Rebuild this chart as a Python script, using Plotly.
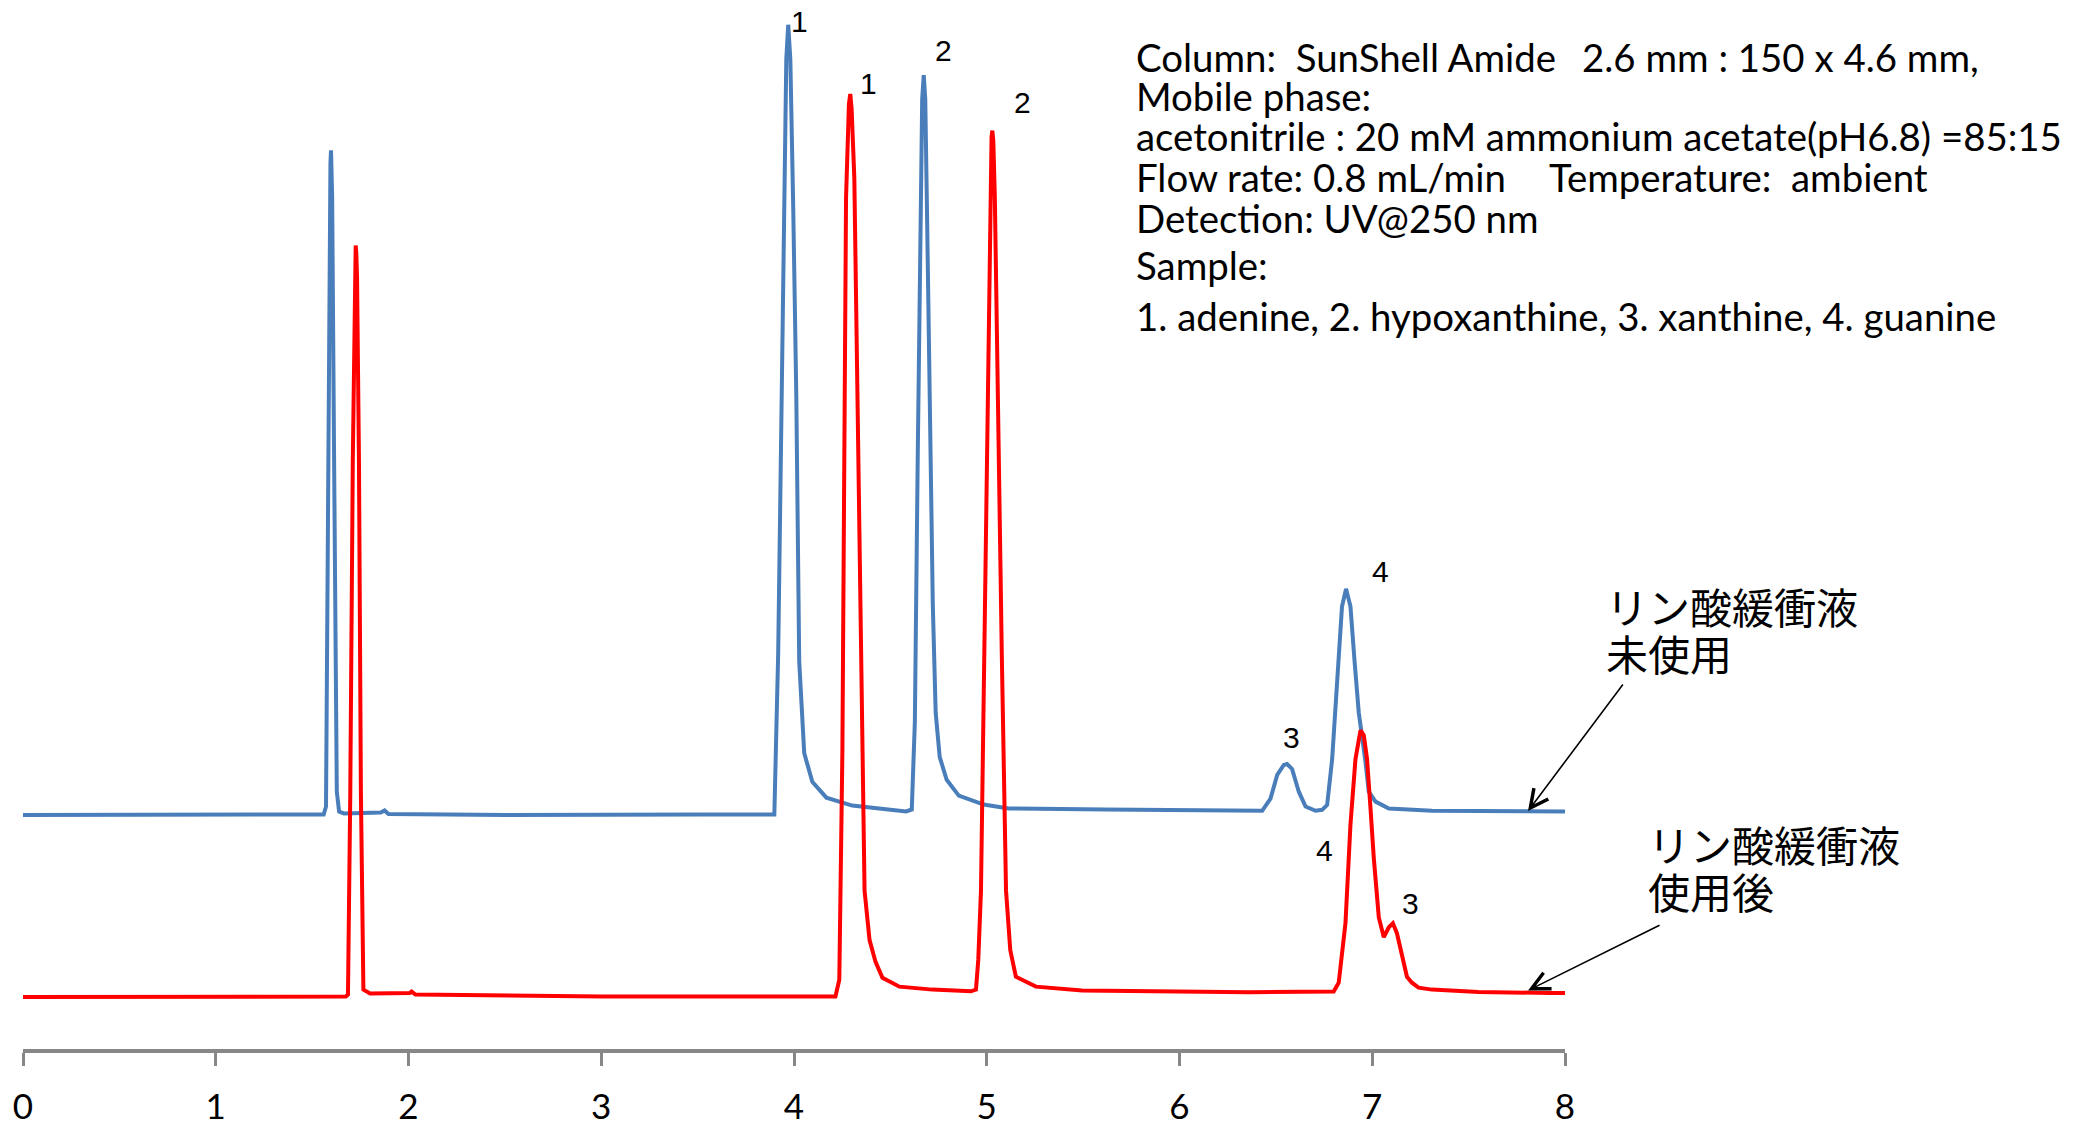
import plotly.graph_objects as go

# ---------------- data (time in min, detector signal in arbitrary units) ----------------
x_ticks = [0, 1, 2, 3, 4, 5, 6, 7, 8]

blue_time = [0.000, 0.502, 1.003, 1.545, 1.560, 1.572, 1.582, 1.593, 1.595, 1.598, 1.601, 1.604,
             1.614, 1.628, 1.640, 1.665, 1.856, 1.876, 1.896, 2.508, 3.511, 3.885,
             3.898, 3.918, 3.934, 3.950, 3.960, 3.970, 3.981, 3.996, 4.012, 4.027, 4.053, 4.095,
             4.168, 4.302, 4.582,
             4.611, 4.627, 4.642, 4.658, 4.665, 4.673, 4.681, 4.689, 4.704, 4.720, 4.735, 4.756,
             4.792, 4.855, 4.984, 5.114,
             5.617, 6.360, 6.429, 6.472, 6.507, 6.541, 6.558, 6.584, 6.619, 6.654, 6.706, 6.740,
             6.766, 6.792, 6.826, 6.843, 6.864, 6.887, 6.909, 6.930, 6.965, 6.982, 7.017, 7.086,
             7.310, 7.915, 8.000]
blue_signal = [236.5, 236.5, 236.5, 237.0, 237.0, 245, 595, 860, 895, 908, 895, 860,
               595, 260, 240, 238, 239, 241, 237.5, 236.5, 237.0, 237.5,
               237, 400, 650, 900, 1000, 1035, 1000, 850, 659, 392, 299, 270,
               254, 246, 240,
               242, 330, 600, 880, 960, 984, 960, 860, 640, 450, 340, 295,
               272, 256, 247, 243,
               242, 240, 240.7, 253, 277, 287, 288, 283, 260, 245, 240.7, 241.7,
               246.7, 293, 407, 447, 465, 447, 390, 340, 290, 260, 250, 243,
               240.7, 240, 240]

red_time = [0.000, 0.502, 1.003, 1.675, 1.686, 1.698, 1.711, 1.720, 1.723, 1.726, 1.729, 1.733,
            1.743, 1.753, 1.766, 1.801, 2.006, 2.016, 2.036, 3.009, 4.012, 4.215,
            4.235, 4.251, 4.270, 4.285, 4.292, 4.299, 4.313, 4.329, 4.347, 4.366, 4.392, 4.423,
            4.459, 4.547, 4.718, 4.918,
            4.944, 4.956, 4.970, 4.987, 5.005, 5.019, 5.025, 5.029, 5.034, 5.042, 5.056, 5.078,
            5.100, 5.122, 5.151, 5.255, 5.495, 6.360, 6.800,
            6.826, 6.861, 6.887, 6.913, 6.939, 6.956, 6.973, 6.991, 7.008, 7.034, 7.060, 7.086,
            7.107, 7.128, 7.154, 7.180, 7.206, 7.240, 7.310, 7.551, 7.915, 8.000]
red_signal = [52.6, 52.6, 52.8, 53.0, 55, 260, 595, 780, 805, 812, 805, 780,
              595, 260, 60, 56, 56.5, 58, 55, 53, 53, 53,
              70, 300, 860, 955, 965, 950, 880, 650, 400, 160, 110, 88,
              72, 63, 60, 58.3,
              60, 90, 160, 400, 660, 880, 922, 928, 918, 860, 660, 400,
              160, 100, 73, 63, 59, 57.3, 58,
              67, 127, 227, 293, 322, 317, 293, 243, 193, 133, 113, 123,
              127, 117, 93, 73, 67, 62, 60, 57.5, 56.7, 56.5]

# peak labels: (time, signal, text)
blue_peak_labels = [(4.031, 1038, "1"), (4.775, 1009, "2"), (6.581, 315, "3"), (7.044, 483, "4")]
red_peak_labels = [(4.386, 976, "1"), (5.184, 956, "2"), (6.754, 201, "4"), (7.201, 147, "3")]

info_lines = [
    "Column:\u00a0\u00a0SunShell Amide",
    "Mobile phase:",
    "acetonitrile : 20 mM ammonium acetate(pH6.8) =85:15",
    "Flow rate: 0.8 mL/min",
    "Detection: UV@250 nm",
    "Sample:",
    "1. adenine, 2. hypoxanthine, 3. xanthine, 4. guanine",
]
info_extra = [(0, "2.6 mm : 150 x 4.6 mm,"), (3, "Temperature:\u00a0\u00a0ambient")]

label_unused = ["リン酸緩衝液", "未使用"]
label_used = ["リン酸緩衝液", "使用後"]

# ---------------- layout constants (pixels) ----------------
W, H = 2080, 1126
ML, MR, MT, MB = 22.5, 515, 0, 68
PW, PH = W - ML - MR, H - MT - MB
BLUE = "#4A7EBB"
RED = "#FF0000"
AXIS_GRAY = "#878787"
FONT = "Liberation Sans, Arial, sans-serif"
TFONT = "Lato, Liberation Sans, sans-serif"
JFONT = "Noto Sans CJK JP, sans-serif"


def px(x):
    return (x - ML) / PW


def py(y):
    return (H - MB - y) / PH


fig = go.Figure()
fig.add_trace(go.Scatter(x=blue_time, y=blue_signal, mode="lines",
                         line=dict(color=BLUE, width=4), showlegend=False, hoverinfo="skip"))
fig.add_trace(go.Scatter(x=red_time, y=red_signal, mode="lines",
                         line=dict(color=RED, width=4), showlegend=False, hoverinfo="skip"))

ann = []
for t, s, txt in blue_peak_labels + red_peak_labels:
    ann.append(dict(x=t, y=s, xref="x", yref="y", text=txt, showarrow=False,
                    font=dict(family=FONT, size=30, color="black"),
                    xanchor="center", yanchor="middle"))

info_base = [70, 110, 150, 191.7, 233, 280, 332]
for i, line in enumerate(info_lines):
    ann.append(dict(x=px(1134), y=py(info_base[i] - 13), xref="paper", yref="paper",
                    text=line, showarrow=False, xanchor="left", yanchor="middle",
                    font=dict(family=TFONT, size=38.4, color="black")))
extra_x = {0: 1580, 3: 1547}
for i, txt in info_extra:
    ann.append(dict(x=px(extra_x[i]), y=py(info_base[i] - 13), xref="paper", yref="paper",
                    text=txt, showarrow=False, xanchor="left", yanchor="middle",
                    font=dict(family=TFONT, size=38.4, color="black")))

for (lx, ly), lines in [((1604, 611), label_unused), ((1646, 851), label_used)]:
    for k, txt in enumerate(lines):
        ann.append(dict(x=px(lx), y=py(ly + 47 * k), xref="paper", yref="paper",
                        text=txt, showarrow=False, xanchor="left", yanchor="middle",
                        font=dict(family=JFONT, size=42, color="black")))

# arrows (head position, tail position)
for (hx, hy), (tx, ty) in [((1528, 818), (1624, 690)), ((1528, 999), (1661, 933))]:
    ann.append(dict(x=px(hx), y=py(hy), xref="paper", yref="paper", text="",
                    showarrow=True, ax=tx - hx, ay=ty - hy, axref="pixel", ayref="pixel",
                    arrowhead=5, arrowsize=2.2, arrowwidth=1.6, arrowcolor="black"))

fig.update_layout(
    width=W, height=H,
    margin=dict(l=ML, r=MR, t=MT, b=MB, pad=0),
    paper_bgcolor="white", plot_bgcolor="white",
    xaxis=dict(range=[0, 8], tickvals=x_ticks, ticktext=[str(v) for v in x_ticks],
               showgrid=False, zeroline=False, showline=True, linecolor=AXIS_GRAY, linewidth=4,
               ticks="outside", ticklen=13, tickwidth=3, tickcolor=AXIS_GRAY,
               ticklabelstandoff=11,
               tickfont=dict(family=TFONT, size=35, color="black"), fixedrange=True),
    yaxis=dict(range=[0, 1060], visible=False, fixedrange=True),
    annotations=ann,
)

fig.write_html("out.html", config={"displayModeBar": False},
               post_script="document.body.style.margin='0';")
